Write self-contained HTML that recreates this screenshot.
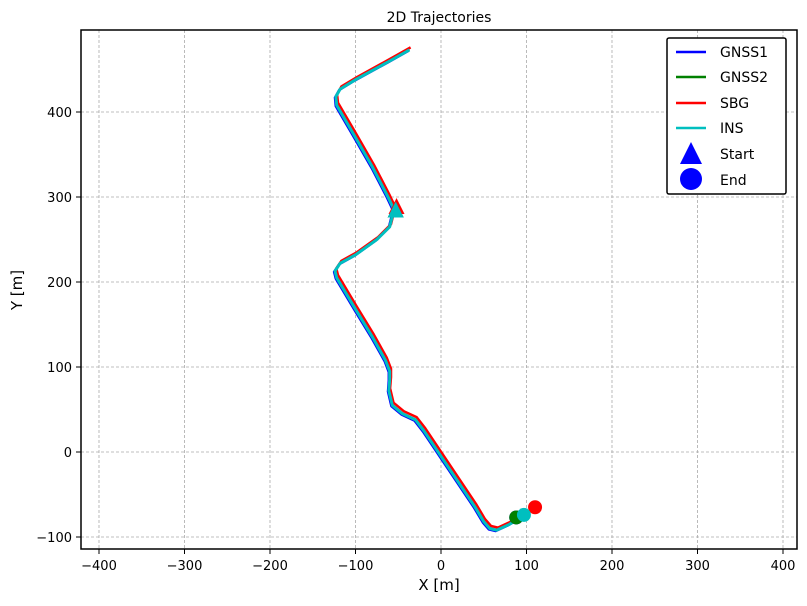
<!DOCTYPE html>
<html><head><meta charset="utf-8"><style>
body{margin:0;background:#fff;font-family:"DejaVu Sans","Liberation Sans",sans-serif;}
svg text{font-family:"DejaVu Sans","Liberation Sans",sans-serif;}
</style></head><body>
<svg id="chart" width="807" height="602" xmlns="http://www.w3.org/2000/svg">
<rect width="807" height="602" fill="#fff"/>
<text x="439" y="22" font-size="14" text-anchor="middle">2D Trajectories</text>
<g id="grid"></g>
<g id="series"></g>
<rect x="81" y="30" width="716" height="519" fill="none" stroke="#000" stroke-width="1.5"/>
<g id="ticks"></g>
<text x="439" y="590" font-size="15" text-anchor="middle">X [m]</text>
<text transform="translate(22,290) rotate(-90)" font-size="15" text-anchor="middle">Y [m]</text>
<g>
<rect x="667" y="38" width="119" height="156" fill="#fff" stroke="#000" stroke-width="1.5" rx="2"/>
<line x1="676" y1="52" x2="706" y2="52" stroke="#0000ff" stroke-width="2.5"/><text x="720" y="57" font-size="14">GNSS1</text>
<line x1="676" y1="77" x2="706" y2="77" stroke="#008000" stroke-width="2.5"/><text x="720" y="82" font-size="14">GNSS2</text>
<line x1="676" y1="103" x2="706" y2="103" stroke="#ff0000" stroke-width="2.5"/><text x="720" y="108" font-size="14">SBG</text>
<line x1="676" y1="128" x2="706" y2="128" stroke="#00bfbf" stroke-width="2.5"/><text x="720" y="133" font-size="14">INS</text>
<polygon points="691,142 680,164 702,164" fill="#0000ff"/><text x="720" y="159" font-size="14">Start</text>
<circle cx="691" cy="179" r="11" fill="#0000ff"/><text x="720" y="185" font-size="14">End</text>
</g>
</svg>
<script>
const xTicks=[-400,-300,-200,-100,0,100,200,300,400];
const yTicks=[-100,0,100,200,300,400];
const insX=[-37,-60,-100,-118,-123,-122,-100,-80,-62,-55,-60,-75,-100,-118,-124,-122,-100,-80,-65,-60,-60,-61,-57,-45,-30,-20,0,20,40,50,57,65,80,100];
const insY=[473,460,438,427,418,408,370,335,300,285,265,250,232,222,213,205,168,135,108,95,85,72,55,45,38,25,-5,-35,-65,-82,-90,-92,-85,-73];
const sbgDX=1.5, sbgDY=3;
const starts={GNSS1:[-53,283],GNSS2:[-53,283],SBG:[-52,287],INS:[-53,283]};
const ends={GNSS1:[88,-77],GNSS2:[88,-77],INS:[97,-74],SBG:[110,-65]};
const X=v=>441+v*0.855, Y=v=>452-v*0.85;
const NS="http://www.w3.org/2000/svg";
function mk(t,a,p){const e=document.createElementNS(NS,t);for(const k in a)e.setAttribute(k,a[k]);p.appendChild(e);return e;}
const grid=document.getElementById('grid'),ticks=document.getElementById('ticks'),ser=document.getElementById('series');
xTicks.forEach(v=>{
 const g=mk('line',{x1:X(v),x2:X(v),y1:30,y2:549,stroke:'#aaa','stroke-dasharray':'3,2','stroke-width':0.8},grid);
 
 
 mk('line',{x1:X(v),x2:X(v),y1:549,y2:554,stroke:'#000'},ticks);
 const t=mk('text',{x:X(v),y:570,'font-size':13,'text-anchor':'middle'},ticks);t.textContent=v<0?'\u2212'+(-v):v;
 
 
});
yTicks.forEach(v=>{
 const g=mk('line',{x1:81,x2:797,y1:Y(v),y2:Y(v),stroke:'#aaa','stroke-dasharray':'3,2','stroke-width':0.8},grid);
 
 
 mk('line',{x1:76,x2:81,y1:Y(v),y2:Y(v),stroke:'#000'},ticks);
 const t=mk('text',{x:72,y:Y(v)+5,'font-size':13,'text-anchor':'end'},ticks);t.textContent=v<0?'\u2212'+(-v):v;
 
 
});
function path(xs,ys,dx,dy){return xs.map((x,i)=>(i?'L':'M')+X(x+dx).toFixed(1)+','+Y(ys[i]+dy).toFixed(1)).join(' ');}
const series=[['GNSS1','#0000ff',-1,-1],['GNSS2','#008000',0,0],['SBG','#ff0000',sbgDX,sbgDY],['INS','#00bfbf',0,0]];
series.forEach(([n,c,dx,dy])=>{
 const p=mk('path',{d:path(insX,insY,dx,dy),fill:'none',stroke:c,'stroke-width':n==='INS'?3:2.5,'stroke-linejoin':'round'},ser);
 
 
});
series.forEach(([n,c])=>{
 const [sx,sy]=starts[n],[ex,ey]=ends[n];
 const tr=mk('polygon',{points:`${X(sx)},${Y(sy)-10} ${X(sx)-8},${Y(sy)+6} ${X(sx)+8},${Y(sy)+6}`,fill:c},ser);
 
 
 const ci=mk('circle',{cx:X(ex),cy:Y(ey),r:7,fill:c},ser);
 
 
});
</script>
</body></html>
